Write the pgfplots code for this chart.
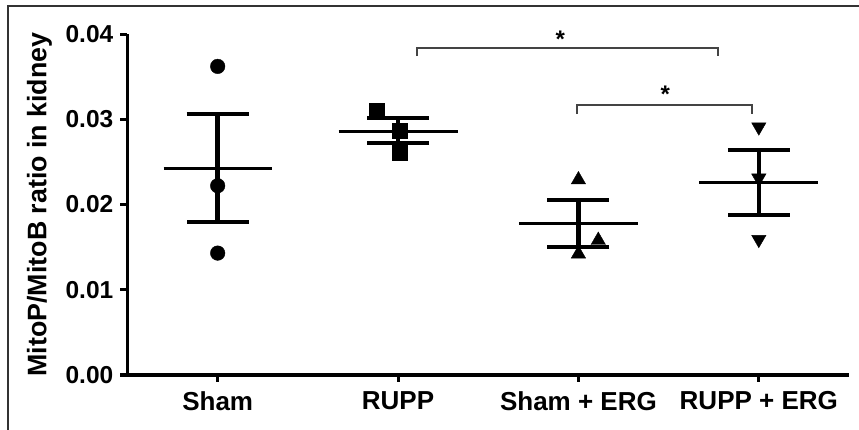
\documentclass[border=0pt]{standalone}
\usepackage{fontspec}
\setmainfont{Liberation Sans}
\usepackage{pgfplots}
\pgfplotsset{compat=1.18}
\definecolor{brk}{HTML}{444444}
\definecolor{frm}{HTML}{333333}
\begin{document}
\begin{tikzpicture}
\useasboundingbox (-127.5bp,-55bp) rectangle (731.5bp,375bp);
\begin{axis}[
  scale only axis,
  width=721.5bp, height=341bp,
  xmin=-0.5, xmax=3.5, ymin=0, ymax=0.04,
  axis x line=bottom, axis y line=left,
  axis line style={-, line width=3.5bp, black},
  every tick/.style={line width=3bp, black},
  tick align=outside,
  major tick length=7bp,
  xtick={0,1,2,3},
  xticklabels={Sham, RUPP, Sham + ERG, RUPP + ERG},
  ytick={0,0.01,0.02,0.03,0.04},
  yticklabels={0.00,0.01,0.02,0.03,0.04},
  scaled y ticks=false,
  /pgf/number format/assume math mode=true,
  ticklabel style={font=\fontsize{24.5bp}{28bp}\selectfont\bfseries, inner sep=0pt},
  yticklabel style={anchor=east, xshift=-7bp},
  xticklabel style={anchor=north, yshift=-9bp, font=\fontsize{26bp}{30bp}\selectfont\bfseries},
  ylabel={MitoP/MitoB ratio in kidney},
  every axis y label/.style={at={(axis description cs:0,0.5)}, xshift=-88bp, rotate=90, anchor=center, inner sep=0pt, font=\fontsize{26.8bp}{30bp}\selectfont\bfseries},
  clip=false,
]
% individual points
\addplot[only marks, mark=*, mark size=7.3bp, black] coordinates {(0,0.0362) (0,0.0222) (0,0.0143)};
\addplot[only marks, mark=square*, mark size=7.5bp, black] coordinates {(0.88,0.0310) (1.01,0.0287) (1.01,0.0261)};
\addplot[only marks, mark=triangle*, mark size=8.3bp, black] coordinates {(2.0,0.0229) (2.11,0.0158) (2.0,0.0142)};
\addplot[only marks, mark=triangle*, mark size=8.3bp, mark options={rotate=180}, black] coordinates {(3,0.0291) (3,0.0231) (3,0.0159)};
% means
\addplot[black, line width=3bp] coordinates {(-0.30,0.02424) (0.30,0.02424)};
\addplot[black, line width=3bp] coordinates {(0.67,0.02855) (1.33,0.02855)};
\addplot[black, line width=3bp] coordinates {(1.67,0.01776) (2.33,0.01776)};
\addplot[black, line width=3bp] coordinates {(2.67,0.02262) (3.33,0.02262)};
% SEM error bars
\addplot[draw=none, mark=none,
  error bars/.cd, y dir=both, y explicit,
  error bar style={black, line width=4.5bp},
  error mark options={black, rotate=90, mark size=31bp, line width=4bp}]
  coordinates {
  (0,0.02424) += (0,0.00643) -= (0,0.00628)
  (1,0.02855) += (0,0.00155) -= (0,0.00137)
  (2,0.01776) += (0,0.00274) -= (0,0.00274)
  (3,0.02262) += (0,0.00377) -= (0,0.00382)
  };
% significance brackets
\addplot[brk, line width=2bp] coordinates {(1.106,0.0374) (1.106,0.0384) (2.776,0.0384) (2.776,0.0374)};
\addplot[brk, line width=2bp] coordinates {(1.994,0.0306) (1.994,0.03165) (2.964,0.03165) (2.964,0.0306)};
\node[anchor=base, inner sep=0pt, font=\fontsize{24bp}{28bp}\selectfont\bfseries] at (axis cs:1.90,0.0384) {*};
\node[anchor=base, inner sep=0pt, font=\fontsize{24bp}{28bp}\selectfont\bfseries] at (axis cs:2.482,0.0320) {*};
\end{axis}
\draw[frm, line width=2.5bp] (-119.5bp,-70bp) -- (-119.5bp,369bp) -- (740bp,369bp);
\end{tikzpicture}
\end{document}
